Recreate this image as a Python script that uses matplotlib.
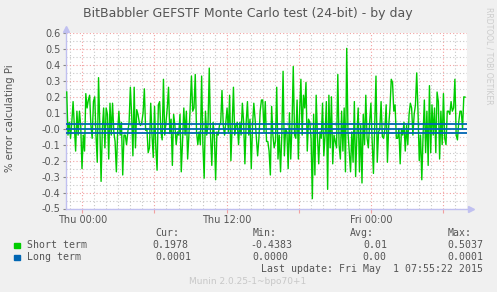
import numpy as np
import matplotlib
matplotlib.use("Agg")
import matplotlib.pyplot as plt
from matplotlib.ticker import MultipleLocator

plt.rcParams['axes.unicode_minus'] = False

# ---------------- data ----------------
short_term = [
    0.23, -0.04, 0.04, -0.06, 0.04, 0.17, 0.02, -0.14, 0.11, -0.04, 0.11, 0.02, -0.25, -0.04,
    -0.14, 0.22, 0.13, 0.18, 0.21, 0.02, -0.06, 0.17, 0.20, -0.04, -0.21, 0.32, 0.02, -0.33,
    0.0, 0.13, -0.12, 0.13, 0.09, -0.19, 0.16, -0.04, 0.16, -0.02, -0.08, -0.27, -0.02, 0.11,
    -0.04, 0.04, -0.29, -0.04, -0.04, -0.10, -0.02, 0.04, 0.26, 0.09,
    -0.17, 0.26, -0.12, 0.12, 0.09, 0.04, 0.02, 0.04, 0.10, 0.25, -0.01, 0.0, -0.15, -0.12,
    0.16, -0.04, -0.18, 0.14, -0.12, -0.26, 0.15, 0.17, -0.02, -0.07, 0.31, -0.04, 0.04, 0.13,
    0.26, -0.03, 0.06, -0.23, 0.09, 0.02, -0.10, -0.02, -0.04, 0.09, -0.27, -0.08, 0.13, -0.04,
    0.11, -0.19, -0.04, 0.13, 0.33, 0.11, 0.13, 0.34, -0.02, -0.10, -0.02, -0.10,
    0.33, -0.10, -0.31, 0.11, -0.04, 0.02, 0.38, -0.04, -0.23, 0.04, -0.04, -0.32, -0.02, -0.04,
    0.02, 0.04, 0.24, 0.02, -0.04, 0.04, 0.13, -0.02, 0.21, -0.20, 0.02, 0.26, -0.04, 0.02,
    0.04, -0.10, 0.04, -0.04, 0.16, 0.04, -0.22, 0.04, 0.17, -0.04, 0.06, -0.25, 0.02, 0.16,
    0.06, -0.06, -0.17, -0.06, 0.11, 0.18, 0.18, -0.02, 0.17, -0.08,
    -0.08, -0.14, -0.29, 0.14, -0.04, -0.12, -0.08, 0.26, -0.19, -0.04, -0.27, -0.04, 0.36, -0.17,
    0.0, -0.02, -0.25, 0.10, -0.19, 0.02, 0.39, -0.04, -0.06, 0.18, -0.19, 0.11, 0.31, -0.04,
    0.21, 0.13, 0.29, -0.14, 0.06, 0.04, -0.06, -0.4383, 0.09, -0.29, 0.21, -0.04, -0.22, -0.02,
    -0.06, 0.16, -0.17, -0.04, 0.17, -0.38, 0.21, -0.12, 0.20, -0.22, -0.04,
    -0.08, -0.12, 0.34, -0.10, -0.19, 0.11, -0.14, 0.13, -0.27, 0.5037, -0.02, -0.14, -0.27, -0.02,
    -0.21, 0.17, -0.30, -0.04, 0.13, -0.27, 0.02, -0.34, 0.09, -0.10, 0.21, -0.06, -0.12, 0.04,
    0.16, -0.08, -0.28, 0.02, 0.33, -0.21, -0.02, 0.0, 0.17, -0.05, -0.06, 0.0, 0.15, -0.21,
    0.02, 0.13, 0.31, 0.29, 0.11, 0.15, -0.06, -0.06, 0.0, -0.22, 0.0,
    -0.04, 0.04, -0.14, 0.02, -0.10, 0.09, 0.16, 0.13, -0.04, 0.09, 0.15, 0.35, 0.11, -0.20,
    -0.04, -0.32, -0.04, 0.18, -0.15, 0.11, -0.23, 0.27, -0.15, 0.15, -0.04, 0.13, -0.15, 0.23,
    0.17, -0.19, 0.11, -0.10, 0.22, -0.06, -0.10, 0.11, 0.11, 0.09, 0.17, 0.11, 0.13, 0.31,
    -0.04, -0.07, 0.04, 0.11, 0.11, 0.0, 0.20, 0.1978,
]
long_term = 0.0001
long_term_band = [0.027, -0.028]

# time window in hours relative to Thu 00:00
t_start, t_end = -1.3, 31.84
x_min, x_max = -1.36, 32.0
x_tick_hours = [0, 12, 24]
x_tick_labels = ["Thu 00:00", "Thu 12:00", "Fri 00:00"]
y_min, y_max = -0.5, 0.6

title = "BitBabbler GEFSTF Monte Carlo test (24-bit) - by day"
ylabel = "% error calculating Pi"
series_names = ["Short term", "Long term"]
series_colors = ["#00CC00", "#0066B3"]
col_headers = ["Cur:", "Min:", "Avg:", "Max:"]
stats = [["0.1978", "-0.4383", "0.01", "0.5037"],
         ["0.0001", "0.0000", "0.00", "0.0001"]]
last_update = "Last update: Fri May  1 07:55:22 2015"
munin_ver = "Munin 2.0.25-1~bpo70+1"
rrd_credit = "RRDTOOL / TOBI OETIKER"

# ---------------- figure ----------------
W, H = 497, 292
fig = plt.figure(figsize=(W / 100, H / 100), dpi=100, facecolor="#F0F0F0")


def px(x, y):
    return x / W, 1 - y / H


L, R, T, B = 66, 467, 33, 208.5
ax = fig.add_axes([L / W, 1 - B / H, (R - L) / W, (B - T) / H])
ax.set_facecolor("white")
ax.set_xlim(x_min, x_max)
ax.set_ylim(y_min, y_max)

# grid
ax.xaxis.set_major_locator(MultipleLocator(6))
ax.xaxis.set_minor_locator(MultipleLocator(1))
ax.yaxis.set_major_locator(MultipleLocator(0.1))
ax.yaxis.set_minor_locator(MultipleLocator(0.05))
ax.grid(which="minor", color="#c8c8c8", linestyle=(0, (1, 2)), linewidth=0.8)
ax.grid(which="major", color="#f2a0a0", linestyle=(0, (1, 2)), linewidth=0.8)
ax.set_axisbelow(True)

t = np.linspace(t_start, t_end, len(short_term))
ax.plot(t, short_term, color=series_colors[0], linewidth=1.0, zorder=3)
ax.axhline(long_term, color=series_colors[1], linewidth=1.3, zorder=4)
for v in long_term_band:
    ax.axhline(v, color=series_colors[1], linewidth=1.3, zorder=4)

# ticks
ticks_major = ax.get_xticks()
ax.set_xticks(ticks_major)
lab = {h: s for h, s in zip(x_tick_hours, x_tick_labels)}
ax.set_xticklabels([lab.get(round(v), "") for v in ticks_major])
ax.set_xlim(x_min, x_max)
yt = np.round(np.arange(y_min, y_max + 0.001, 0.1), 1)
ax.set_yticks(yt)
ax.set_yticklabels([f"{v:.1f}" for v in yt])
ax.set_ylim(y_min, y_max)
ax.tick_params(axis="both", which="major", labelsize=7, labelcolor="#555555", pad=2)
ax.tick_params(axis="x", which="major", length=3, color="#f2a0a0")
ax.tick_params(axis="y", which="major", length=2, color="#888888")
ax.tick_params(axis="both", which="minor", length=0)

for s in ["top", "right"]:
    ax.spines[s].set_visible(False)
for s in ["left", "bottom"]:
    ax.spines[s].set_color("#c0c0f0")
    ax.spines[s].set_linewidth(1.0)
# arrow heads
ax.plot([0], [1.025], marker="^", markersize=4, color="#c0c0f0", transform=ax.transAxes, clip_on=False)
ax.plot([1.01], [0], marker=">", markersize=4, color="#c0c0f0", transform=ax.transAxes, clip_on=False)

# texts
fig.text(*px(248, 13), title, ha="center", va="center", fontsize=9, color="#555555")
fig.text(*px(10, 118), ylabel, ha="center", va="center", rotation=90, fontsize=7.3, color="#555555")
fig.text(*px(489, 56), rrd_credit, ha="center", va="center", rotation=270, fontsize=5.5, color="#cccccc")

mono = dict(family="DejaVu Sans Mono", fontsize=7.1, color="#555555", va="center")
hdr_x = [155, 252.7, 350, 447.7]
for hx, h in zip(hdr_x, col_headers):
    fig.text(*px(hx, 233), h, ha="left", **mono)
row_y = [245.5, 257.5]
val_x = [[152.7, 250, 363.7, 447.7], [155, 252.7, 362, 447.7]]
for i in range(2):
    fig.patches.append(plt.Rectangle(px(14, row_y[i] + 2.8), 6 / W, 5.6 / H,
                                     transform=fig.transFigure, color=series_colors[i]))
    fig.text(*px(27, row_y[i]), series_names[i], ha="left", **mono)
    for vx, s in zip(val_x[i], stats[i]):
        fig.text(*px(vx, row_y[i]), s, ha="left", **mono)
fig.text(*px(483, 269.5), last_update, ha="right", **mono)
fig.text(*px(248, 281), munin_ver, ha="center", va="center", fontsize=6.5, color="#c8c8c8")

fig.savefig("out.png", dpi=100, facecolor=fig.get_facecolor())
